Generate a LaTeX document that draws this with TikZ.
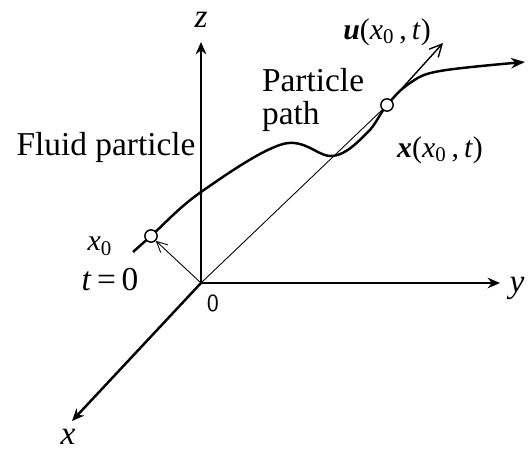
\documentclass[tikz,border=0pt]{standalone}
\usepackage{fontspec}
\setmainfont{Liberation Serif}
\newfontfamily\timesfont{Liberation Serif}
\usetikzlibrary{arrows.meta,positioning}

\begin{document}
\begin{tikzpicture}[
  x=0.02cm, y=-0.02cm,
  axis/.style={line width=1.4pt,-{Stealth[length=7pt,width=6pt]}},
  trail/.style={line width=1.4pt},
  thinvec/.style={line width=0.5pt},
  dot/.style={circle,draw,line width=0.8pt,fill=white,minimum size=7pt,inner sep=0pt},
  lbl/.style={font=\timesfont\fontsize{19}{19}\selectfont,inner sep=1pt},
  mlbl/.style={font=\timesfont\fontsize{17}{20}\selectfont,inner sep=1pt},
]
\useasboundingbox (0,0) rectangle (529,453);
% axes
\coordinate (O) at (201,283);
\coordinate (ztip) at (201,42);
\coordinate (ytip) at (500,283);
\coordinate (xtip) at (72,421);
\draw[axis] (O) -- (ztip);
\draw[axis] (O) -- (ytip);
\draw[axis] (O) -- (xtip);
\node[lbl] (zlab) at (201,20) {\textit{z}};
\node[lbl] (ylab) at (517,288) {\textit{y}};
\node[lbl] (xlab) at (68,437) {\textit{x}};
\node[lbl,font=\fontsize{14}{16}\selectfont\sffamily] (olab) at (213,303) {0};
% particle path
\coordinate (pstart) at (133,252);
\coordinate (pend) at (525,62);
\draw[trail,-{Stealth[length=8pt,width=6pt]}] plot[smooth,tension=0.6] coordinates
  {(pstart) (151,236) (201,192) (283,144) (333,156) (367,133) (387,105) (410,83) (440,71) (pend)};
% position and velocity vectors
\node[dot] (p0) at (151,236) {};
\node[dot] (pt) at (387,105) {};
\draw[thinvec,-{Straight Barb[length=6pt,width=6pt]}] (O) -- (p0.south east);
\draw[thinvec] (O) -- (pt.south west);
\draw[line width=0.8pt,-{Straight Barb[length=7pt,width=7pt]}] (pt) -- (443,43);
% labels
\node[lbl] (fluid) at (106,147) {Fluid particle};
\node[lbl,align=left,anchor=north west] (ppath) at (260,66) {Particle\\path};
\node[mlbl] (x0lab) at (100,246) {\textit{x}\textsubscript{0}};
\node[lbl] (t0lab) at (110,280) {\textit{t}\,=\,0};
\node[mlbl] (ulab) at (387,32) {\textbf{\textit{u}}(\textit{x}\textsubscript{0}\,,\,\textit{t})};
\node[mlbl] (xtlab) at (440,150) {\textbf{\textit{x}}(\textit{x}\textsubscript{0}\,,\,\textit{t})};
\end{tikzpicture}
\end{document}
